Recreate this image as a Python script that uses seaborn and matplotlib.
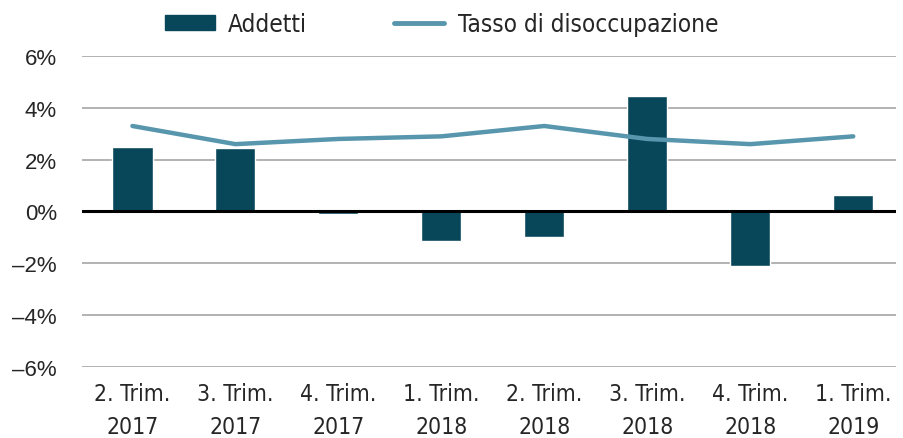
import matplotlib
matplotlib.use("Agg")
import matplotlib.pyplot as plt
import seaborn as sns
import pandas as pd
from matplotlib.ticker import FuncFormatter
from matplotlib.patches import Patch
from matplotlib.lines import Line2D
from matplotlib import font_manager

categories = ["2. Trim.\n2017", "3. Trim.\n2017", "4. Trim.\n2017", "1. Trim.\n2018",
              "2. Trim.\n2018", "3. Trim.\n2018", "4. Trim.\n2018", "1. Trim.\n2019"]
addetti = [2.5, 2.45, -0.1, -1.15, -1.0, 4.45, -2.1, 0.65]
tasso = [3.3, 2.6, 2.8, 2.9, 3.3, 2.8, 2.6, 2.9]
yticks = [-6, -4, -2, 0, 2, 4, 6]

bar_color = "#08465a"
line_color = "#5796ad"

df = pd.DataFrame({"cat": categories, "addetti": addetti, "tasso": tasso})

sns.set_theme(style="white")
plt.rcParams["font.family"] = ["Liberation Sans", "DejaVu Sans"]

# pick a condensed face if one is installed
cond_fp = None
for f in font_manager.fontManager.ttflist:
    if f.name == "DejaVu Sans" and f.stretch == "condensed" and f.style == "normal" and f.weight in (400, "normal"):
        cond_fp = font_manager.FontProperties(fname=f.fname)
        break
if cond_fp is None:
    cond_fp = font_manager.FontProperties(family="Liberation Sans")

fig = plt.figure(figsize=(9.04, 4.39), dpi=100)
ax = fig.add_axes([0.0907, 0.162, 0.901, 0.708])

for t in yticks:
    if t != 0:
        ax.axhline(t, color="#a6a6a6", lw=1.2, zorder=0)

sns.barplot(data=df, x="cat", y="addetti", color=bar_color, width=0.39,
            saturation=1, ax=ax, zorder=2)
ax.axhline(0, color="black", lw=2.2, zorder=3)
sns.lineplot(x=list(range(len(categories))), y=tasso, color=line_color, lw=3.2,
             ax=ax, zorder=4, solid_capstyle="round")

ax.set_xlim(-0.49, 7.42)
ax.set_ylim(-6, 6)
ax.set_yticks(yticks)
ax.yaxis.set_major_formatter(FuncFormatter(lambda v, p: f"{int(v)}%".replace("-", "\u2013")))
ax.set_xticks(range(len(categories)))
ax.set_xticklabels(categories, linespacing=1.55)
for lbl in ax.get_xticklabels():
    lbl.set_fontproperties(cond_fp)
    lbl.set_fontsize(16.5)
ax.tick_params(axis="y", length=0, pad=18, labelsize=16, labelfontfamily="Liberation Sans")
ax.tick_params(axis="x", length=0, pad=11)
ax.set_xlabel("")
ax.set_ylabel("")
for s in ax.spines.values():
    s.set_visible(False)

handles = [Patch(facecolor=bar_color, edgecolor=bar_color),
           Line2D([0], [0], color=line_color, lw=3.5, solid_capstyle="round")]
leg_fp = cond_fp.copy()
leg_fp.set_size(17.5)
fig.legend(handles, ["Addetti", "Tasso di disoccupazione"], loc="upper left",
           bbox_to_anchor=(0.158, 1.02), ncol=2, frameon=False, prop=leg_fp,
           handlelength=2.05, handleheight=0.6, columnspacing=3.6, handletextpad=0.55)

fig.savefig("out.png", dpi=100)
